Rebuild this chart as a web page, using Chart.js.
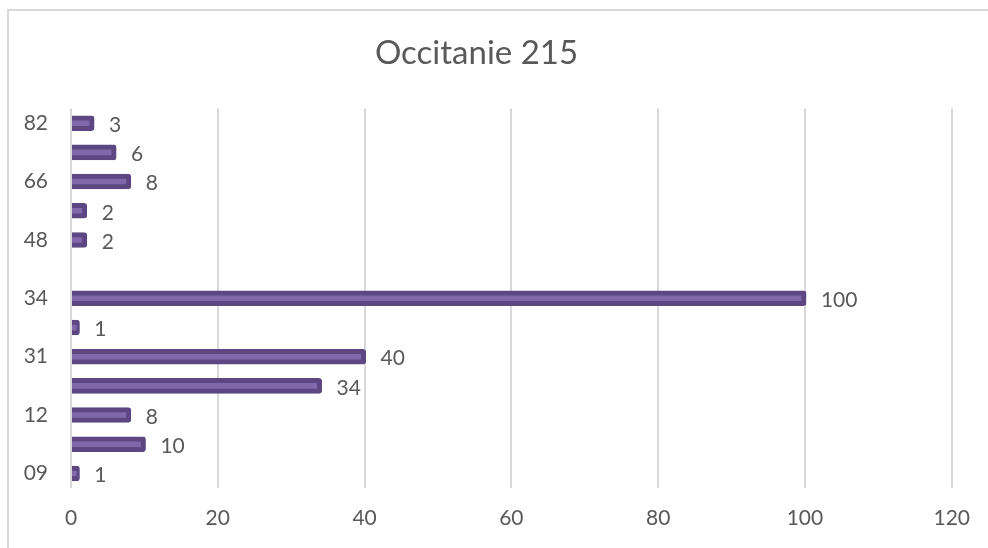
<!DOCTYPE html>
<html>
<head>
<meta charset="utf-8">
<script src="https://cdn.jsdelivr.net/npm/chart.js@4/dist/chart.umd.min.js"></script>
<style>
  html, body { margin: 0; padding: 0; background: #ffffff; }
  #wrap { position: relative; width: 988px; height: 548px; overflow: hidden; }
  #frame { position: absolute; left: 7px; top: 9px; width: 1000px; height: 600px;
           border-left: 2px solid #d9d9d9; border-top: 2px solid #d9d9d9; box-sizing: border-box; }
  canvas { position: absolute; left: 0; top: 0; }
</style>
</head>
<body>
<div id="wrap">
  <div id="frame"></div>
  <canvas id="c" width="988" height="548"></canvas>
</div>
<script>
const title = "Occitanie 215";
const categories = ["09", "11", "12", "30", "31", "32", "34", "46", "48", "65", "66", "81", "82"];
const values = [1, 10, 8, 34, 40, 1, 100, null, 2, 2, 8, 6, 3];
const xTicks = [0, 20, 40, 60, 80, 100, 120];

const FONT = "Lato, 'Open Sans', sans-serif";
const TEXT = "#595959";

const valueLabels = {
  id: 'valueLabels',
  afterDatasetsDraw(chart) {
    const ctx = chart.ctx;
    const meta = chart.getDatasetMeta(0);
    ctx.save();
    ctx.font = "21px " + FONT;
    ctx.fillStyle = TEXT;
    ctx.textAlign = "left";
    ctx.textBaseline = "middle";
    meta.data.forEach((bar, i) => {
      const v = values[i];
      if (v === null || v === undefined) return;
      ctx.fillText(String(v), bar.x + 16, bar.y + 2);
    });
    ctx.restore();
  }
};

new Chart(document.getElementById('c'), {
  type: 'bar',
  data: {
    labels: categories,
    datasets: [{
      data: values,
      backgroundColor: '#8068aa',
      borderColor: '#5c4783',
      borderWidth: 5,
      borderRadius: 3,
      borderSkipped: 'start',
      inflateAmount: 1.5,
      barPercentage: 0.43,
      categoryPercentage: 1.0
    }]
  },
  options: {
    indexAxis: 'y',
    responsive: false,
    animation: false,
    devicePixelRatio: 1,
    layout: { padding: { left: 0, right: 35, top: 0, bottom: 0 } },
    plugins: {
      legend: { display: false },
      tooltip: { enabled: false },
      title: {
        display: true,
        text: title,
        color: TEXT,
        font: { family: FONT, size: 33, weight: 'normal', lineHeight: 1.2 },
        padding: { top: 34, bottom: 35 }
      }
    },
    scales: {
      x: {
        min: 0, max: 120,
        afterBuildTicks(scale) { scale.ticks = xTicks.map(v => ({ value: v })); },
        afterFit(scale) { scale.height = 60; },
        grid: { color: '#d9d9d9', lineWidth: 2, drawTicks: false },
        border: { display: false },
        ticks: { color: TEXT, font: { family: FONT, size: 21 }, padding: 18 }
      },
      y: {
        reverse: true,
        afterFit(scale) { scale.width = 71; },
        grid: { display: false, drawTicks: false },
        border: { display: false },
        ticks: { color: TEXT, font: { family: FONT, size: 21 }, padding: 23, autoSkip: false,
                 callback(v, i) { return i % 2 === 0 ? categories[i] : ''; } }
      }
    }
  },
  plugins: [valueLabels]
});
</script>
</body>
</html>
